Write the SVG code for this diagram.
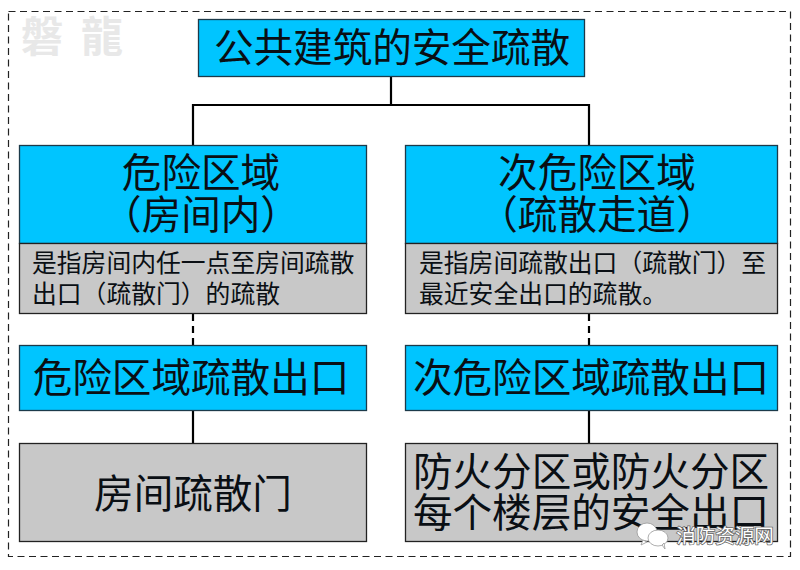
<svg xmlns="http://www.w3.org/2000/svg" width="800" height="570" viewBox="0 0 800 570">
<style>
text{font-family:"Noto Sans CJK SC","Noto Sans CJK JP",sans-serif;fill:#0a0f14;text-anchor:middle}
.b{fill:#00c5ff;stroke:#1c3a4a;stroke-width:1.3}
.g{fill:#c8c8c8;stroke:#222;stroke-width:1.3}
.t{font-size:39.600px}
.s{font-size:24.800px;text-anchor:start}
.w{font-size:42px;font-weight:700;fill:#e8e8e8}
.c{stroke:#000;stroke-width:2.2;fill:none}
.m{fill:#fff;stroke:#999;stroke-width:0.800}
</style>
<rect width="800" height="570" fill="#fff"/>
<rect x="8.500" y="11.500" width="782" height="545" fill="none" stroke="#222" stroke-width="1.200" stroke-dasharray="7 4.500"/>
<text class="w" x="42" y="52">磐</text>
<text class="w" x="102" y="52">龍</text>
<g id="connectors">
<path class="c" d="M391 76V105M193 145V105H589V145"/>
<path class="c" d="M193 314V345M589 314V345" stroke-dasharray="7 5"/>
<path class="c" d="M193 410V443M589 410V443"/>
</g>
<g id="root"><rect class="b" x="198.500" y="19.500" width="386" height="57"/><text class="t" x="392" y="62">公共建筑的安全疏散</text></g>
<g id="left-head"><rect class="b" x="19.500" y="145.500" width="347" height="98"/><text class="t" x="201" y="187">危险区域</text><text class="t" x="201" y="229">（房间内）</text></g>
<g id="left-desc"><rect class="g" x="19.500" y="243.500" width="347" height="70"/><text class="s" x="32" y="272">是指房间内任一点至房间疏散</text><text class="s" x="32" y="303">出口（疏散门）的疏散</text></g>
<g id="left-exit"><rect class="b" x="19.500" y="345.500" width="347" height="65"/><text class="t" x="191" y="392">危险区域疏散出口</text></g>
<g id="left-door"><rect class="g" x="19.500" y="443.500" width="347" height="98"/><text class="t" x="193" y="508">房间疏散门</text></g>
<g id="right-head"><rect class="b" x="405.500" y="145.500" width="372" height="98"/><text class="t" x="597" y="187">次危险区域</text><text class="t" x="597" y="229">（疏散走道）</text></g>
<g id="right-desc"><rect class="g" x="405.500" y="243.500" width="372" height="70"/><text class="s" x="419" y="272">是指房间疏散出口（疏散门）至</text><text class="s" x="419" y="303">最近安全出口的疏散。</text></g>
<g id="right-exit"><rect class="b" x="405.500" y="345.500" width="372" height="65"/><text class="t" x="591" y="392">次危险区域疏散出口</text></g>
<g id="right-floor"><rect class="g" x="405.500" y="443.500" width="372" height="98"/><text class="t" x="591" y="486">防火分区或防火分区</text><text class="t" x="591" y="527">每个楼层的安全出口</text></g>
<g id="wechat-mark">
<ellipse class="m" cx="647" cy="532" rx="10" ry="9"/><path class="m" d="M643 540l-2 5 6-3z"/>
<ellipse class="m" cx="658" cy="538" rx="10" ry="8"/><path class="m" d="M662 545l3 4-1-6z"/>
</g>
<text x="725" y="543" style="font-size:19.500px;fill:#fff;stroke:#666;stroke-width:1.500px;paint-order:stroke">消防资源网</text>
</svg>
